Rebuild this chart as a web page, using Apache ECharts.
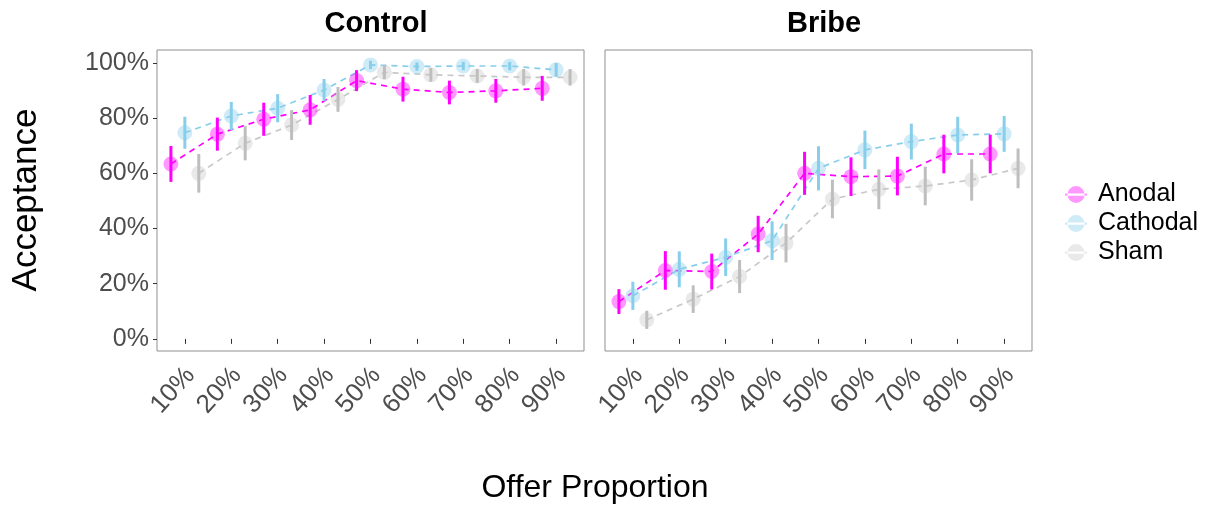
<!DOCTYPE html>
<html>
<head>
<meta charset="UTF-8">
<title>Acceptance by offer proportion</title>
<script type="text/javascript" src="https://cdn.jsdelivr.net/npm/echarts@6/dist/echarts.min.js"></script>
<style>
  html, body { margin: 0; padding: 0; background: #fff; }
</style>
</head>
<body>
<div id="main" style="width:1216px;height:511px;"></div>

<script type="text/javascript">
// categories
var offers = ['10%', '20%', '30%', '40%', '50%', '60%', '70%', '80%', '90%'];
var yTicks = [0, 20, 40, 60, 80, 100];

// Control panel (mean acceptance %, half-width of error bar)
var controlAnodal      = [63.4, 74.2, 79.6, 83.0, 93.6, 90.5, 89.3, 89.9, 90.8];
var controlAnodalErr   = [6.5, 6.0, 6.0, 5.4, 3.8, 4.5, 4.3, 4.3, 4.5];
var controlCathodal    = [74.7, 80.8, 83.6, 90.2, 99.3, 98.7, 98.9, 98.9, 97.5];
var controlCathodalErr = [5.8, 5.1, 5.1, 4.0, 1.5, 1.5, 1.5, 1.5, 2.5];
var controlSham        = [60.0, 70.9, 77.5, 86.8, 96.6, 95.7, 95.3, 94.8, 94.8];
var controlShamErr     = [7.0, 6.2, 5.4, 4.5, 2.5, 2.5, 2.5, 3.0, 3.0];

// Bribe panel
var bribeAnodal      = [13.5, 24.8, 24.4, 38.0, 60.0, 58.8, 59.0, 67.0, 67.0];
var bribeAnodalErr   = [4.5, 7.0, 6.5, 6.6, 7.8, 7.0, 7.0, 7.0, 7.0];
var bribeCathodal    = [15.6, 25.2, 29.6, 35.6, 61.8, 68.5, 71.5, 73.9, 74.3];
var bribeCathodalErr = [5.1, 6.5, 6.8, 7.0, 8.0, 7.0, 6.5, 6.6, 6.5];
var bribeSham        = [6.9, 14.4, 22.6, 34.7, 50.7, 54.2, 55.4, 57.6, 61.8];
var bribeShamErr     = [3.3, 5.0, 6.0, 7.0, 7.0, 7.2, 7.0, 7.5, 7.2];

var groups = [
  {name: 'Anodal',   color: '#FF00FF', bar: '#FF00FF', dodge: -0.3},
  {name: 'Cathodal', color: '#87CEEB', bar: '#87CEEB', dodge: 0},
  {name: 'Sham',     color: '#C8C8C8', bar: '#BEBEBE', dodge: 0.3}
];
var panels = [
  {vals: [controlAnodal, controlCathodal, controlSham], errs: [controlAnodalErr, controlCathodalErr, controlShamErr]},
  {vals: [bribeAnodal, bribeCathodal, bribeSham], errs: [bribeAnodalErr, bribeCathodalErr, bribeShamErr]}
];

var tickIdx = offers.map(function (o, i) { return i + 1; });
var font = 'Liberation Sans, Arial, sans-serif';

var mychart = echarts.init(document.getElementById('main'));

var grids = [
  {left: 157, top: 50, width: 427, height: 301},
  {left: 605, top: 50, width: 427, height: 301}
];

var xAxes = [], yAxes = [];
grids.forEach(function (g, k) {
  g.show = true;
  g.borderColor = '#8f8f8f';
  g.borderWidth = 1;
  g.backgroundColor = '#fff';
  xAxes.push({
    type: 'value', gridIndex: k, min: 0.4, max: 9.6,
    splitLine: {show: false},
    axisLine: {show: false},
    axisTick: {show: true, length: 5, customValues: tickIdx, lineStyle: {color: '#333'}},
    axisLabel: {
      customValues: tickIdx, rotate: 48, margin: 15,
      verticalAlign: 'top', lineHeight: 15,
      fontSize: 26, color: '#4D4D4D', fontFamily: font,
      formatter: function (v) { return offers[Math.round(v) - 1]; }
    }
  });
  yAxes.push({
    type: 'value', gridIndex: k, min: -4.4, max: 104.7,
    splitLine: {show: false},
    axisLine: {show: false},
    axisTick: {show: k === 0, length: 4, customValues: yTicks, lineStyle: {color: '#333'}},
    axisLabel: {
      show: k === 0, customValues: yTicks, margin: 8,
      fontSize: 25, color: '#4D4D4D', fontFamily: font,
      formatter: function (v) { return v + '%'; }
    }
  });
});

var series = [];
// points first so the legend takes their style
panels.forEach(function (p, k) {
  groups.forEach(function (g, j) {
    series.push({
      name: g.name, type: 'scatter', xAxisIndex: k, yAxisIndex: k,
      symbol: 'circle', symbolSize: 15, z: 3,
      itemStyle: {color: g.color, opacity: 0.4},
      data: p.vals[j].map(function (v, i) { return [i + 1 + g.dodge, v]; })
    });
  });
});
panels.forEach(function (p, k) {
  groups.forEach(function (g, j) {
    series.push({
      name: g.name, type: 'line', xAxisIndex: k, yAxisIndex: k,
      symbol: 'none', z: 2, silent: true,
      lineStyle: {color: g.color, width: 1.7, type: [6, 5]},
      data: p.vals[j].map(function (v, i) { return [i + 1 + g.dodge, v]; })
    });
    series.push({
      name: g.name, type: 'custom', xAxisIndex: k, yAxisIndex: k, z: 4,
      encode: {x: 0, y: [1, 2]},
      data: p.vals[j].map(function (v, i) {
        return [i + 1 + g.dodge, v - p.errs[j][i], v + p.errs[j][i]];
      }),
      renderItem: function (params, api) {
        var a = api.coord([api.value(0), api.value(1)]);
        var b = api.coord([api.value(0), api.value(2)]);
        return {
          type: 'line',
          shape: {x1: a[0], y1: a[1], x2: b[0], y2: b[1]},
          style: {stroke: g.bar, lineWidth: 3}
        };
      }
    });
  });
});

var option = {
  animation: false,
  backgroundColor: '#fff',
  title: [
    {text: 'Control', left: 371, top: 4, textAlign: 'center',
     textStyle: {fontSize: 29, fontWeight: 'bold', color: '#000', fontFamily: font}},
    {text: 'Bribe', left: 819, top: 4, textAlign: 'center',
     textStyle: {fontSize: 29, fontWeight: 'bold', color: '#000', fontFamily: font}}
  ],
  legend: {
    data: ['Anodal', 'Cathodal', 'Sham'],
    orient: 'vertical', left: 1060, top: 177,
    itemWidth: 22, itemHeight: 17, itemGap: 4,
    icon: 'path://M2.5,8.5 a8.5,8.5 0 1,0 17,0 a8.5,8.5 0 1,0 -17,0 Z M0,7.5 h22 v2.2 h-22 Z',
    textStyle: {fontSize: 25, color: '#000', fontFamily: font, padding: [0, 0, 0, 6]}
  },
  grid: grids,
  xAxis: xAxes,
  yAxis: yAxes,
  series: series,
  graphic: [
    {type: 'text', x: 26, y: 200, rotation: Math.PI / 2,
     style: {text: 'Acceptance', fontSize: 35, fill: '#000', fontFamily: font,
             textAlign: 'center', textVerticalAlign: 'middle'}},
    {type: 'text', x: 595, y: 488,
     style: {text: 'Offer Proportion', fontSize: 32, fill: '#000', fontFamily: font,
             textAlign: 'center', textVerticalAlign: 'middle'}}
  ]
};

mychart.setOption(option);
</script>
</body>
</html>
